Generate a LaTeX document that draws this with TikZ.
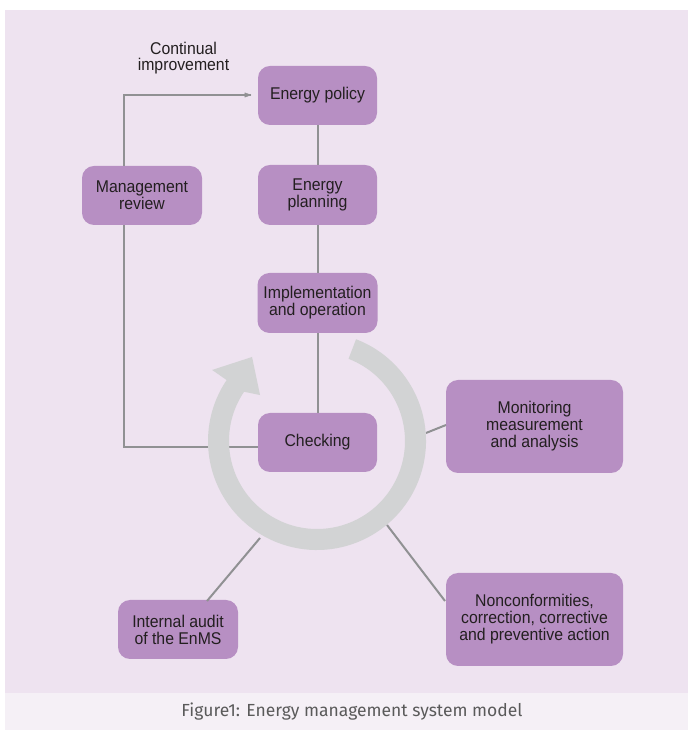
\documentclass[tikz,border=0pt]{standalone}
\usepackage{fontspec}
\setmainfont{Liberation Sans}[FakeStretch=0.93]
\newfontfamily\capfont{Fira Sans}
\usetikzlibrary{arrows.meta,calc}
\definecolor{bgpink}{HTML}{EEE3F0}
\definecolor{capband}{HTML}{F5F0F6}
\definecolor{boxpurple}{HTML}{B78FC3}
\definecolor{ringgray}{HTML}{D2D3D4}
\definecolor{linegray}{HTML}{909193}
\definecolor{txt}{HTML}{231F20}
\definecolor{captxt}{HTML}{5A5A5A}
\tikzset{
  pbox/.style={fill=boxpurple, rounded corners=12pt, inner sep=0pt, align=center,
    text=txt, font=\fontsize{17}{17}\selectfont},
  conn/.style={draw=linegray, line width=2pt},
}
\begin{document}
\begin{tikzpicture}[x=1pt,y=1pt]
\useasboundingbox (0,0) rectangle (688,730);
\fill[white] (0,0) rectangle (688,730);
\fill[bgpink] (5,37) rectangle (688,720);
\fill[capband] (5,0) rectangle (688,37);
\node[text=captxt, font=\capfont\fontsize{17.5}{17.5}\selectfont] (cap) at (352,18) {Figure1: Energy management system model};

% boxes
\node[pbox, minimum width=119pt, minimum height=59pt] (policy) at (317.5,634.5) {Energy policy};
\node[pbox, minimum width=119pt, minimum height=60pt] (planning) at (317.5,535) {Energy\\planning};
\node[pbox, minimum width=120pt, minimum height=60pt] (impl) at (317.5,427) {Implementation\\and operation};
\node[pbox, minimum width=119pt, minimum height=59pt] (check) at (317.5,287.5) {Checking};
\node[pbox, minimum width=120pt, minimum height=59pt] (mgmt) at (142,534.5) {Management\\review};
\node[pbox, minimum width=177pt, minimum height=93pt] (monitor) at (534.5,303.5) {Monitoring\\measurement\\and analysis};
\node[pbox, minimum width=177pt, minimum height=93pt] (noncon) at (534.5,110.5) {Nonconformities,\\correction, corrective\\and preventive action};
\node[pbox, minimum width=120pt, minimum height=59pt] (audit) at (178,100.5) {Internal audit\\of the EnMS};
\node[text=txt, align=center, inner sep=0pt, font=\fontsize{17}{16.5}\selectfont] (ci) at (183.5,672) {Continual\\improvement};

% connectors
\coordinate (c0) at (317,289);
\coordinate (mtop) at (124,635);
\coordinate (mbot) at (124,283);
\draw[conn] (mgmt.north -| mtop) -- (mtop) -- ([xshift=-7pt]policy.west |- mtop);
\draw[draw=linegray, fill=linegray] ([xshift=-7pt]policy.west |- mtop) ++(0,0) -- ++(-6,2.2) -- ++(0,-4.4) -- cycle;
\draw[conn] (mgmt.south -| mbot) -- (mbot) -- (check.west |- mbot);
\draw[conn] (policy.south -| 318,0) -- (planning.north -| 318,0);
\draw[conn] (planning.south -| 318,0) -- (impl.north -| 318,0);
\draw[conn] (impl.south -| 318,0) -- (check.north -| 318,0);

\coordinate (rm) at (426,297);
\coordinate (bm) at (446,305);
\coordinate (ra) at (260,192);
\coordinate (ba) at (207,129);
\coordinate (rn) at (387,205);
\coordinate (bn) at (445,129);
\draw[conn] (rm) -- (bm);
\draw[conn] (ra) -- (ba);
\draw[conn] (rn) -- (bn);

% ring arrow
\fill[ringgray] ($(c0)+(69:109)$) arc[start angle=69, end angle=-214, radius=109]
  -- ($(c0)+(145.9:126.7)$) -- ($(c0)+(127.7:106.2)$) -- ($(c0)+(141.1:73.2)$)
  -- ($(c0)+(146:88)$) arc[start angle=-214, end angle=69, radius=88] -- cycle;
\end{tikzpicture}
\end{document}
